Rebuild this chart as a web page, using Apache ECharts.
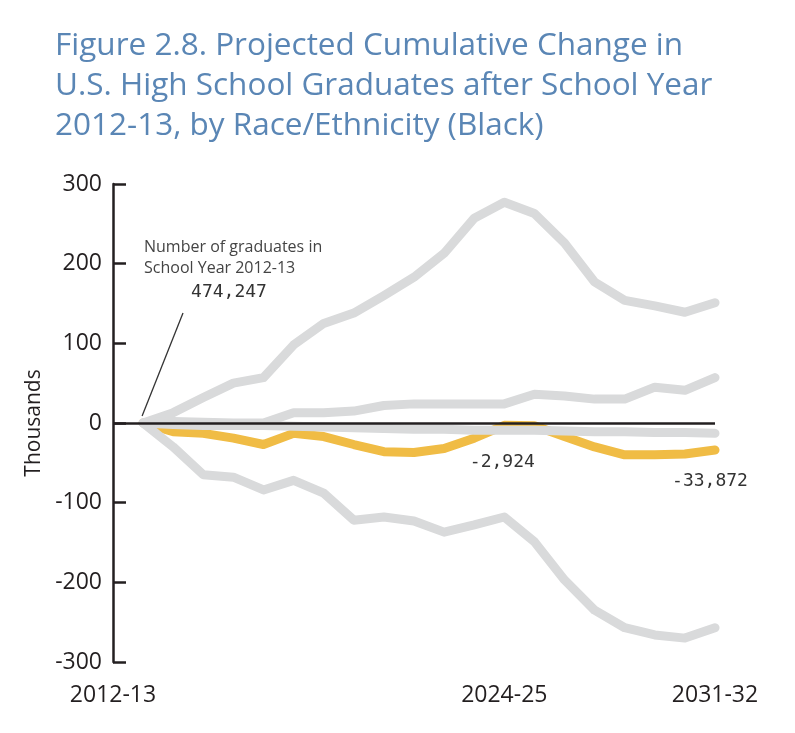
<!DOCTYPE html>
<html>
<head>
<meta charset="utf-8">
<script src="https://cdn.jsdelivr.net/npm/echarts@6/dist/echarts.min.js"></script>
<style>
html,body{margin:0;padding:0;background:#fff;}
#c{width:795px;height:733px;}
</style>
</head>
<body>
<div id="c"></div>
<script>
// Years of the projection (index 0 = 2012-13 ... 19 = 2031-32)
const years = ["2012-13","2013-14","2014-15","2015-16","2016-17","2017-18","2018-19","2019-20","2020-21","2021-22","2022-23","2023-24","2024-25","2025-26","2026-27","2027-28","2028-29","2029-30","2030-31","2031-32"];
// Cumulative change, thousands
const grayTop    = [0, 13, 32, 50, 57, 98, 125, 138, 160, 183, 213, 257, 277, 263, 226, 177, 154, 147, 139, 151];
const grayMid    = [0, 2, 1, 0, 0, 13, 13, 15, 22, 24, 24, 24, 24, 36, 34, 30, 30, 45, 41, 57];
const grayLow    = [0, -2, -3, -3, -3, -4, -5, -6, -7, -8, -8, -9, -9, -9, -10, -11, -11, -12, -12, -13];
const grayBottom = [0, -30, -65, -68, -84, -72, -88, -122, -118, -123, -137, -128, -118, -149, -197, -235, -257, -266, -270, -257];
const black      = [0, -11, -13, -19, -27, -13, -17, -27, -36, -37, -32, -19, -2.924, -3.5, -17, -30, -40, -40, -39, -33.872];
const yTicks = [-300, -200, -100, 0, 100, 200, 300];
const xLabelIdx = [-1, 12, 19];
const xLabelText = {"-1": "2012-13", "12": "2024-25", "19": "2031-32"};

const pairs = arr => arr.map((v, i) => [i, v]);
const grayStyle = {color: '#d9dadb', width: 9, cap: 'round', join: 'round'};

const chart = echarts.init(document.getElementById('c'));
const option = {
  animation: false,
  title: {
    text: 'Figure 2.8. Projected Cumulative Change in\nU.S. High School Graduates after School Year\n2012-13, by Race/Ethnicity (Black)',
    left: 50, top: 21,
    textStyle: {color: '#5a86b5', fontFamily: 'Open Sans', fontSize: 31.5, fontWeight: 'normal', lineHeight: 40}
  },
  grid: {left: 113, right: 80, top: 184, bottom: 71},
  xAxis: {
    type: 'value', min: -1, max: 19,
    axisLine: {show: false}, axisTick: {show: false}, splitLine: {show: false},
    axisLabel: {
      customValues: xLabelIdx,
      formatter: v => xLabelText[String(v)] || '',
      color: '#231f20', fontFamily: 'Open Sans', fontSize: 23, margin: 22
    }
  },
  yAxis: {
    type: 'value', min: -300, max: 300, interval: 100,
    name: 'Thousands', nameLocation: 'middle', nameGap: 63, nameRotate: 90,
    nameTextStyle: {color: '#231f20', fontFamily: 'Open Sans', fontSize: 21},
    axisLine: {show: true, onZero: false, lineStyle: {color: '#231f20', width: 2.5}},
    axisTick: {show: true, inside: true, length: 13, lineStyle: {color: '#231f20', width: 2.5}},
    splitLine: {show: false},
    axisLabel: {color: '#231f20', fontFamily: 'Open Sans', fontSize: 23, margin: 11,
      customValues: yTicks}
  },
  series: [
    {type: 'line', data: pairs(black), symbol: 'none', z: 2,
      lineStyle: {color: '#f0bc45', width: 9, cap: 'round', join: 'round'}},
    {type: 'line', data: pairs(grayTop), symbol: 'none', z: 3, lineStyle: grayStyle},
    {type: 'line', data: pairs(grayMid), symbol: 'none', z: 3, lineStyle: grayStyle},
    {type: 'line', data: pairs(grayLow), symbol: 'none', z: 3, lineStyle: grayStyle},
    {type: 'line', data: pairs(grayBottom), symbol: 'none', z: 3, lineStyle: grayStyle,
      markLine: {
        silent: true, symbol: 'none', z: 10,
        lineStyle: {color: '#231f20', width: 2.5, type: 'solid'},
        label: {show: false},
        data: [[{coord: [-1, 0]}, {coord: [19, 0]}]]
      }}
  ]
};
chart.setOption(option);

// Annotations anchored to data through the chart's scales
const p0 = chart.convertToPixel({gridIndex: 0}, [0, 0]);
const p12 = chart.convertToPixel({gridIndex: 0}, [12, black[12]]);
const p19 = chart.convertToPixel({gridIndex: 0}, [19, black[19]]);
const lblStyle = {fill: '#333', font: '18px "DejaVu Sans Mono"'};
chart.setOption({
  graphic: [
    {type: 'text', left: 144, top: 237, style: {text: 'Number of graduates in\nSchool Year 2012-13', fill: '#444', font: '16px "Open Sans"', lineHeight: 21}},
    {type: 'text', x: 229, y: 292, style: Object.assign({text: '474,247', align: 'center', verticalAlign: 'middle'}, lblStyle)},
    {type: 'line', shape: {x1: 183, y1: 313, x2: p0[0] - 1, y2: p0[1] - 7}, style: {stroke: '#333', lineWidth: 1.3}},
    {type: 'text', x: p12[0] - 2, y: p12[1] + 37, style: Object.assign({text: '-2,924', align: 'center', verticalAlign: 'middle'}, lblStyle)},
    {type: 'text', x: p19[0] - 5, y: p19[1] + 31, style: Object.assign({text: '-33,872', align: 'center', verticalAlign: 'middle'}, lblStyle)}
  ]
});
</script>
</body>
</html>
